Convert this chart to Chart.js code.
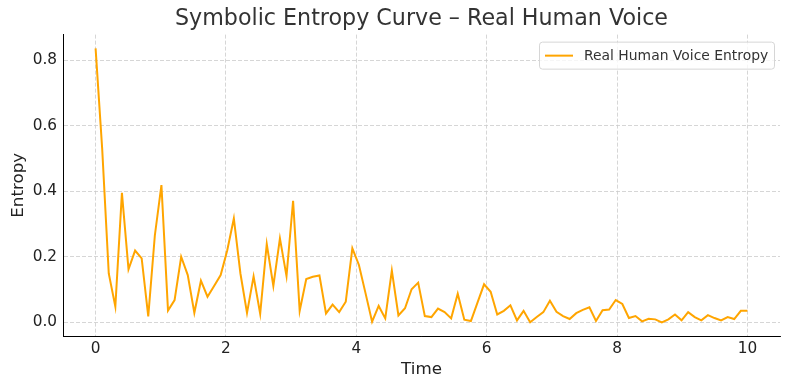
<!DOCTYPE html>
<html>
<head>
<meta charset="utf-8">
<script src="https://cdn.jsdelivr.net/npm/chart.js@4/dist/chart.umd.min.js"></script>
<style>
    html, body { margin: 0; padding: 0; background: #fff; }
    #wrap { width: 790px; height: 390px; }
</style>
</head>
<body>
<div id="wrap"><canvas id="entropyChart" width="790" height="390"></canvas></div>
<script>
(function () {
    'use strict';

    const times = [
        0, 0.101, 0.202, 0.303, 0.404, 0.505, 0.606, 0.707, 0.808, 0.909,
        1.010, 1.111, 1.212, 1.313, 1.414, 1.515, 1.616, 1.717, 1.818, 1.919,
        2.020, 2.121, 2.222, 2.323, 2.424, 2.525, 2.626, 2.727, 2.828, 2.929,
        3.030, 3.131, 3.232, 3.333, 3.434, 3.535, 3.636, 3.737, 3.838, 3.939,
        4.040, 4.141, 4.242, 4.343, 4.444, 4.545, 4.646, 4.747, 4.848, 4.949,
        5.051, 5.152, 5.253, 5.354, 5.455, 5.556, 5.657, 5.758, 5.859, 5.960,
        6.061, 6.162, 6.263, 6.364, 6.465, 6.566, 6.667, 6.768, 6.869, 6.970,
        7.071, 7.172, 7.273, 7.374, 7.475, 7.576, 7.677, 7.778, 7.879, 7.980,
        8.081, 8.182, 8.283, 8.384, 8.485, 8.586, 8.687, 8.788, 8.889, 8.990,
        9.091, 9.192, 9.293, 9.394, 9.495, 9.596, 9.697, 9.798, 9.899, 10.0
    ];

    const entropy = [
        0.836, 0.53, 0.149, 0.048, 0.395, 0.162, 0.219, 0.195, 0.018, 0.265,
        0.419, 0.036, 0.068, 0.200, 0.144, 0.029, 0.127, 0.078, 0.111, 0.144,
        0.22, 0.317, 0.149, 0.029, 0.140, 0.026, 0.239, 0.111, 0.256, 0.141,
        0.371, 0.035, 0.132, 0.139, 0.143, 0.027, 0.054, 0.031, 0.063, 0.226,
        0.175, 0.089, 0.002, 0.050, 0.012, 0.158, 0.021, 0.043, 0.101, 0.121,
        0.019, 0.016, 0.042, 0.031, 0.012, 0.087, 0.008, 0.004, 0.060, 0.116,
        0.093, 0.024, 0.035, 0.052, 0.006, 0.035, 0.000, 0.016, 0.031, 0.066,
        0.032, 0.019, 0.010, 0.028, 0.038, 0.046, 0.004, 0.037, 0.039, 0.068,
        0.056, 0.013, 0.019, 0.003, 0.011, 0.009, 0.000, 0.009, 0.024, 0.006,
        0.031, 0.016, 0.006, 0.022, 0.013, 0.006, 0.016, 0.010, 0.035, 0.035
    ];

    const xTicks = [0, 2, 4, 6, 8, 10];
    const yTicks = [0, 0.2, 0.4, 0.6, 0.8];

    const seriesLabel = 'Real Human Voice Entropy';
    const lineColor = '#FFA500';
    const fontFamily = '"DejaVu Sans", sans-serif';

    const points = times.map(function (t, i) { return { x: t, y: entropy[i] }; });

    // matplotlib-like legend box in the upper right of the axes
    const boxLegend = {
        id: 'boxLegend',
        afterDraw: function (chart) {
            const ctx = chart.ctx;
            const area = chart.chartArea;
            const w = 235, h = 27;
            const x = area.right - 6 - w;
            const y = area.top + 7;
            ctx.save();
            ctx.beginPath();
            ctx.roundRect(x + 0.5, y + 0.5, w, h, 3);
            ctx.fillStyle = 'rgba(255,255,255,0.8)';
            ctx.fill();
            ctx.strokeStyle = '#d6d6d6';
            ctx.lineWidth = 1;
            ctx.stroke();
            ctx.beginPath();
            ctx.moveTo(x + 6, y + h / 2 + 0.5);
            ctx.lineTo(x + 34, y + h / 2 + 0.5);
            ctx.strokeStyle = lineColor;
            ctx.lineWidth = 2;
            ctx.stroke();
            ctx.fillStyle = '#333';
            ctx.font = '13.9px ' + fontFamily;
            ctx.textBaseline = 'middle';
            ctx.fillText(seriesLabel, x + 45, y + h / 2 + 1);
            ctx.restore();
        }
    };

    new Chart(document.getElementById('entropyChart'), {
        type: 'line',
        data: {
            datasets: [{
                label: seriesLabel,
                data: points,
                borderColor: lineColor,
                backgroundColor: lineColor,
                borderWidth: 2,
                pointRadius: 0,
                tension: 0,
                fill: false
            }]
        },
        options: {
            responsive: false,
            animation: false,
            layout: { padding: { left: 0, right: 10, top: 0, bottom: 0 } },
            plugins: {
                legend: { display: false },
                tooltip: { enabled: false },
                title: {
                    display: true,
                    fullSize: false,
                    text: 'Symbolic Entropy Curve – Real Human Voice',
                    color: '#333',
                    font: { family: fontFamily, size: 22.2, weight: 'normal' },
                    padding: { top: 6, bottom: 2 }
                }
            },
            scales: {
                x: {
                    type: 'linear',
                    min: -0.5,
                    max: 10.5,
                    afterBuildTicks: function (scale) {
                        scale.ticks = xTicks.map(function (v) { return { value: v }; });
                    },
                    afterFit: function (scale) { scale.height = 54; },
                    ticks: {
                        color: '#222',
                        padding: 4,
                        maxRotation: 0,
                        font: { family: fontFamily, size: 15.3 },
                        callback: function (v) { return String(v); }
                    },
                    grid: {
                        color: '#cccccc',
                        lineWidth: 0.8,
                        drawTicks: false
                    },
                    border: { color: '#000', width: 1, dash: [4, 2] },
                    title: {
                        display: true,
                        text: 'Time',
                        color: '#222',
                        font: { family: fontFamily, size: 16.7 },
                        padding: { top: 0, bottom: 10 }
                    }
                },
                y: {
                    type: 'linear',
                    min: -0.0418,
                    max: 0.878,
                    afterBuildTicks: function (scale) {
                        scale.ticks = yTicks.map(function (v) { return { value: v }; });
                    },
                    afterFit: function (scale) { scale.width = 63; },
                    ticks: {
                        color: '#222',
                        padding: 6,
                        font: { family: fontFamily, size: 15.3 },
                        callback: function (v) { return Number(v).toFixed(1); }
                    },
                    grid: {
                        color: '#cccccc',
                        lineWidth: 0.8,
                        drawTicks: false
                    },
                    border: { color: '#000', width: 1, dash: [4, 2] },
                    title: {
                        display: true,
                        text: 'Entropy',
                        color: '#222',
                        font: { family: fontFamily, size: 16.7 },
                        padding: { top: 9, bottom: 0 }
                    }
                }
            }
        },
        plugins: [boxLegend]
    });
})();
</script>
</body>
</html>
